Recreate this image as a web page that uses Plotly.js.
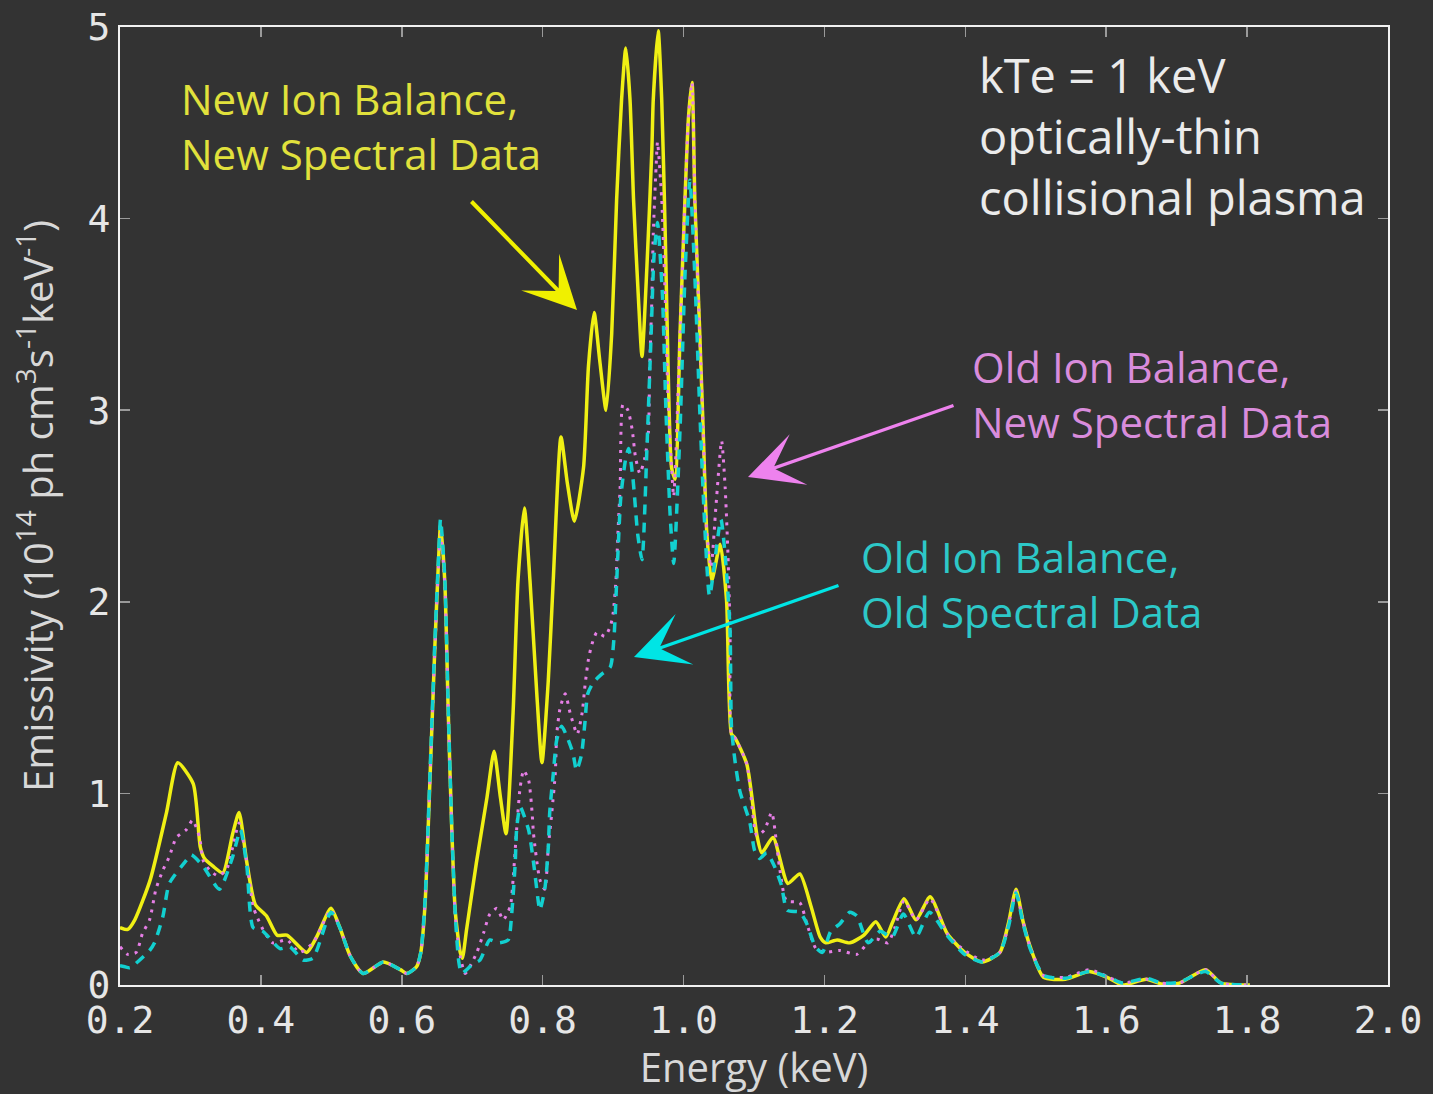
<!DOCTYPE html>
<html>
<head>
<meta charset="utf-8">
<script src="https://cdn.plot.ly/plotly-3.0.1.min.js"></script>
<style>
  html, body { margin: 0; padding: 0; background: #333333; }
  #chart { width: 1433px; height: 1094px; }
</style>
</head>
<body>
<div id="chart"></div>
<script>
// Emission spectrum of a kTe = 1 keV optically-thin collisional plasma,
// emissivity in units of 1e14 ph cm^3 s^-1 keV^-1.

// New ion balance, new spectral data
const energyNewNew = [0.200,0.211,0.221,0.243,0.266,0.282,0.304,0.314,0.320,0.332,0.346,0.360,0.369,0.380,0.392,0.408,0.423,0.437,0.465,0.479,0.4995,0.512,0.527,0.545,0.574,0.598,0.607,0.621,0.627,0.633,0.640,0.647,0.652,0.655,0.661,0.666,0.671,0.676,0.683,0.686,0.692,0.706,0.721,0.731,0.740,0.748,0.758,0.765,0.774,0.782,0.792,0.799,0.808,0.815,0.826,0.835,0.845,0.858,0.865,0.873,0.881,0.890,0.898,0.905,0.912,0.918,0.924,0.929,0.936,0.941,0.948,0.955,0.957,0.964,0.969,0.974,0.978,0.983,0.988,0.995,1.002,1.007,1.012,1.016,1.023,1.028,1.033,1.040,1.052,1.061,1.068,1.073,1.090,1.104,1.111,1.127,1.148,1.165,1.181,1.194,1.202,1.218,1.236,1.256,1.273,1.287,1.297,1.313,1.330,1.350,1.374,1.399,1.424,1.449,1.461,1.472,1.482,1.492,1.511,1.542,1.576,1.604,1.623,1.657,1.679,1.704,1.741,1.763,1.804];
const emisNewNew = [0.30,0.29,0.34,0.55,0.90,1.16,1.05,0.72,0.66,0.62,0.585,0.79,0.90,0.64,0.42,0.36,0.26,0.26,0.17,0.25,0.40,0.30,0.15,0.06,0.12,0.08,0.06,0.095,0.17,0.42,1.07,1.77,2.20,2.40,2.11,1.42,0.81,0.38,0.17,0.14,0.29,0.64,0.98,1.22,0.98,0.79,1.42,2.11,2.49,2.11,1.50,1.16,1.59,2.11,2.86,2.62,2.42,2.70,3.23,3.51,3.26,3.00,3.40,4.10,4.62,4.89,4.62,4.10,3.58,3.28,3.75,4.36,4.62,4.98,4.62,3.92,3.23,2.70,2.64,3.40,4.10,4.53,4.71,4.10,3.40,2.88,2.36,2.11,2.30,2.01,1.31,1.29,1.15,0.785,0.69,0.77,0.53,0.58,0.41,0.25,0.22,0.235,0.22,0.26,0.33,0.25,0.33,0.45,0.34,0.46,0.27,0.17,0.12,0.17,0.32,0.50,0.33,0.20,0.04,0.03,0.07,0.035,0.0,0.03,0.005,0.01,0.08,0.01,0.0];

// Old ion balance, new spectral data
const energyOldNew = [0.200,0.211,0.223,0.232,0.242,0.251,0.261,0.270,0.280,0.294,0.303,0.313,0.318,0.327,0.339,0.351,0.360,0.369,0.380,0.389,0.394,0.403,0.417,0.437,0.455,0.474,0.4995,0.512,0.527,0.545,0.574,0.598,0.607,0.621,0.627,0.633,0.640,0.647,0.652,0.655,0.661,0.666,0.671,0.676,0.683,0.690,0.706,0.716,0.725,0.735,0.744,0.754,0.758,0.763,0.768,0.773,0.780,0.785,0.787,0.796,0.803,0.808,0.813,0.818,0.820,0.825,0.832,0.839,0.849,0.856,0.860,0.865,0.870,0.877,0.888,0.896,0.900,0.904,0.907,0.910,0.914,0.921,0.927,0.932,0.938,0.945,0.950,0.952,0.955,0.957,0.961,0.963,0.969,0.974,0.978,0.983,0.986,0.995,1.002,1.007,1.012,1.016,1.023,1.028,1.033,1.039,1.046,1.054,1.059,1.063,1.066,1.068,1.073,1.090,1.104,1.115,1.125,1.136,1.146,1.165,1.175,1.188,1.201,1.222,1.246,1.262,1.274,1.290,1.300,1.313,1.330,1.350,1.374,1.392,1.424,1.449,1.461,1.472,1.482,1.492,1.511,1.542,1.576,1.604,1.623,1.657,1.679,1.704,1.741,1.763,1.804];
const emisOldNew = [0.20,0.16,0.17,0.27,0.34,0.50,0.60,0.67,0.77,0.81,0.86,0.77,0.65,0.60,0.57,0.60,0.72,0.845,0.64,0.41,0.36,0.29,0.22,0.235,0.17,0.22,0.39,0.30,0.15,0.06,0.12,0.08,0.06,0.095,0.17,0.42,1.07,1.75,2.18,2.36,2.10,1.42,0.81,0.36,0.15,0.06,0.165,0.27,0.37,0.40,0.34,0.41,0.55,0.81,1.03,1.12,1.07,0.90,0.79,0.55,0.50,0.72,0.90,1.11,1.31,1.45,1.52,1.42,1.31,1.42,1.56,1.70,1.78,1.84,1.82,1.87,1.94,2.11,2.37,2.60,3.03,3.00,2.90,2.75,2.67,2.75,2.88,3.23,3.58,3.92,4.27,4.40,4.10,3.58,3.05,2.70,2.55,3.40,4.10,4.53,4.71,4.10,3.40,2.88,2.36,2.18,2.50,2.84,2.60,2.25,1.85,1.31,1.29,1.15,0.78,0.81,0.90,0.62,0.44,0.43,0.32,0.19,0.17,0.18,0.16,0.22,0.24,0.22,0.30,0.44,0.34,0.45,0.27,0.20,0.13,0.17,0.31,0.49,0.33,0.20,0.05,0.04,0.08,0.04,0.01,0.03,0.01,0.01,0.08,0.01,0.0];

// Old ion balance, old spectral data
const energyOldOld = [0.200,0.207,0.214,0.242,0.249,0.261,0.270,0.294,0.301,0.318,0.341,0.360,0.371,0.380,0.389,0.403,0.427,0.441,0.460,0.474,0.4995,0.512,0.527,0.545,0.574,0.598,0.607,0.621,0.627,0.633,0.640,0.647,0.652,0.655,0.661,0.666,0.671,0.676,0.681,0.685,0.701,0.711,0.725,0.737,0.751,0.756,0.761,0.763,0.768,0.780,0.787,0.794,0.796,0.803,0.808,0.810,0.815,0.820,0.827,0.834,0.843,0.848,0.855,0.860,0.864,0.872,0.883,0.896,0.901,0.905,0.911,0.918,0.922,0.928,0.935,0.941,0.948,0.954,0.958,0.963,0.970,0.975,0.981,0.986,0.995,1.002,1.009,1.016,1.023,1.030,1.037,1.053,1.060,1.066,1.068,1.073,1.080,1.094,1.101,1.108,1.118,1.129,1.139,1.147,1.165,1.175,1.187,1.197,1.209,1.222,1.236,1.246,1.262,1.279,1.296,1.312,1.330,1.349,1.374,1.399,1.424,1.449,1.461,1.472,1.482,1.492,1.511,1.542,1.576,1.604,1.623,1.657,1.679,1.704,1.741,1.763,1.804];
const emisOldOld = [0.10,0.095,0.09,0.18,0.22,0.36,0.53,0.65,0.68,0.62,0.50,0.67,0.81,0.62,0.30,0.28,0.19,0.20,0.13,0.14,0.38,0.30,0.15,0.06,0.12,0.08,0.06,0.095,0.17,0.44,1.10,1.80,2.22,2.43,2.13,1.44,0.82,0.36,0.12,0.06,0.11,0.13,0.235,0.22,0.235,0.37,0.635,0.81,0.93,0.81,0.64,0.43,0.39,0.50,0.72,0.90,1.10,1.28,1.35,1.30,1.21,1.12,1.20,1.37,1.52,1.58,1.62,1.66,1.80,2.10,2.55,2.75,2.80,2.65,2.35,2.22,2.80,3.40,3.80,3.98,3.60,3.00,2.45,2.20,2.90,3.70,4.20,3.70,3.00,2.40,2.03,2.43,2.20,1.85,1.35,1.17,1.01,0.85,0.70,0.66,0.69,0.62,0.52,0.39,0.38,0.32,0.20,0.17,0.28,0.32,0.38,0.36,0.22,0.28,0.25,0.37,0.25,0.38,0.26,0.16,0.12,0.17,0.30,0.48,0.32,0.19,0.05,0.035,0.07,0.04,0.01,0.035,0.01,0.015,0.07,0.01,0.0];

const xTicks = [0.2,0.4,0.6,0.8,1.0,1.2,1.4,1.6,1.8,2.0];
const xTickLabels = ['0.2','0.4','0.6','0.8','1.0','1.2','1.4','1.6','1.8','2.0'];
const yTicks = [0,1,2,3,4,5];

const BG = '#333333';
const TEXT_FONT = 'Open Sans, Noto Sans, sans-serif';
const TICK_FONT = 'DejaVu Sans Mono, monospace';

const traces = [
  {
    x: energyNewNew, y: emisNewNew, type: 'scatter', mode: 'lines',
    name: 'New Ion Balance, New Spectral Data',
    line: { color: '#f0f014', width: 3.5, shape: 'spline', smoothing: 0.6 }
  },
  {
    x: energyOldNew, y: emisOldNew, type: 'scatter', mode: 'lines',
    name: 'Old Ion Balance, New Spectral Data',
    line: { color: '#e67ee6', width: 3, dash: '3px,6px', shape: 'spline', smoothing: 0.6 }
  },
  {
    x: energyOldOld, y: emisOldOld, type: 'scatter', mode: 'lines',
    name: 'Old Ion Balance, Old Spectral Data',
    line: { color: '#12d0d0', width: 3.5, dash: '10px,8px', shape: 'spline', smoothing: 0.6 }
  }
];

const axisCommon = {
  showline: true, linecolor: '#f2f2f2', linewidth: 2, mirror: 'ticks',
  ticks: 'inside', ticklen: 10, tickwidth: 1.5, tickcolor: '#9a9a9a',
  showgrid: false, zeroline: false, fixedrange: true,
  tickfont: { family: TICK_FONT, size: 38, color: '#e6e6e6' }
};

const annotations = [
  // labels
  { xref: 'paper', yref: 'paper', x: 0.0465, y: 0.897, xanchor: 'left', yanchor: 'middle', align: 'left',
    showarrow: false, text: 'New Ion Balance,<br>New Spectral Data',
    font: { family: TEXT_FONT, size: 42, color: '#e1e13c' } },
  { xref: 'paper', yref: 'paper', x: 0.6705, y: 0.6164, xanchor: 'left', yanchor: 'middle', align: 'left',
    showarrow: false, text: 'Old Ion Balance,<br>New Spectral Data',
    font: { family: TEXT_FONT, size: 42, color: '#d98cdc' } },
  { xref: 'paper', yref: 'paper', x: 0.5830, y: 0.4186, xanchor: 'left', yanchor: 'middle', align: 'left',
    showarrow: false, text: 'Old Ion Balance,<br>Old Spectral Data',
    font: { family: TEXT_FONT, size: 42, color: '#2dc8c8' } },
  { xref: 'paper', yref: 'paper', x: 0.6755, y: 0.8865, xanchor: 'left', yanchor: 'middle', align: 'left',
    showarrow: false, text: 'kTe = 1 keV<br>optically-thin<br>collisional plasma',
    font: { family: TEXT_FONT, size: 47, color: '#ebebeb' } },
  // arrows pointing at the curves
  { xref: 'paper', yref: 'paper', x: (577 - 120) / 1268, y: (985 - 310) / 958,
    ax: 470 - 577, ay: 200 - 310, text: '', showarrow: true,
    arrowhead: 3, arrowsize: 2.2, arrowwidth: 4, arrowcolor: '#f0f000' },
  { xref: 'paper', yref: 'paper', x: (748 - 120) / 1268, y: (985 - 477) / 958,
    ax: 955 - 748, ay: 405 - 477, text: '', showarrow: true,
    arrowhead: 3, arrowsize: 2.7, arrowwidth: 3.3, arrowcolor: '#ee82ee' },
  { xref: 'paper', yref: 'paper', x: (634 - 120) / 1268, y: (985 - 657) / 958,
    ax: 840 - 634, ay: 585 - 657, text: '', showarrow: true,
    arrowhead: 3, arrowsize: 2.7, arrowwidth: 3.3, arrowcolor: '#00e5e5' }
];

const layout = {
  width: 1433, height: 1094,
  margin: { l: 120, r: 45, t: 27, b: 109 },
  paper_bgcolor: BG, plot_bgcolor: BG,
  showlegend: false,
  xaxis: Object.assign({}, axisCommon, {
    range: [0.2, 2.0], tickvals: xTicks, ticktext: xTickLabels,
    title: { text: 'Energy (keV)', font: { family: TEXT_FONT, size: 40, color: '#d8d8d8' }, standoff: 8 }
  }),
  yaxis: Object.assign({}, axisCommon, {
    range: [0, 5], tickvals: yTicks,
    title: { text: 'Emissivity (10<sup>14</sup> ph cm<sup>3</sup>s<sup>-1</sup>keV<sup>-1</sup>)',
             font: { family: TEXT_FONT, size: 40, color: '#d8d8d8' }, standoff: 22 }
  }),
  annotations: annotations
};

Plotly.newPlot('chart', traces, layout, { displayModeBar: false, staticPlot: true });
</script>
</body>
</html>
